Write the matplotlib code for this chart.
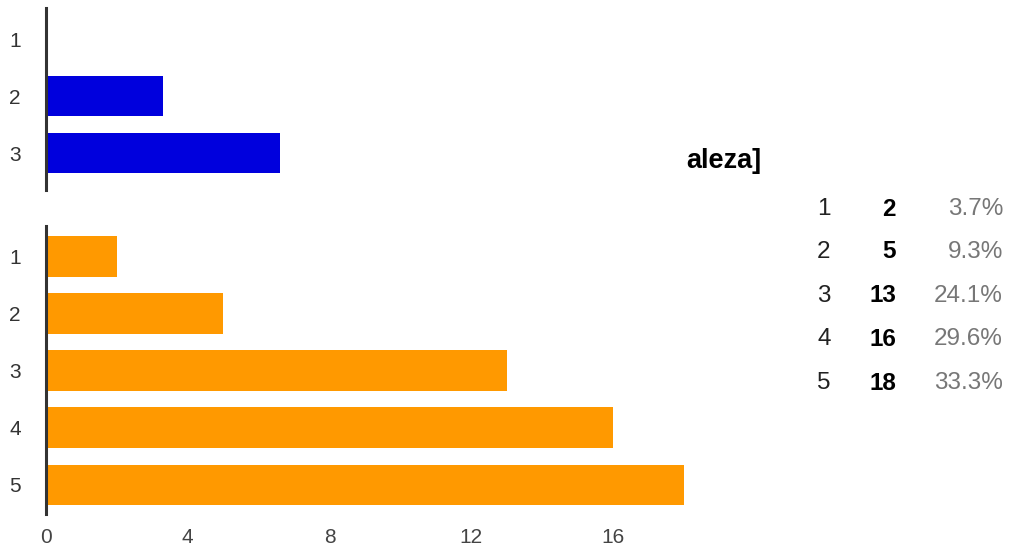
import matplotlib.pyplot as plt

plt.rcParams['font.family'] = ['Liberation Sans', 'DejaVu Sans']

top_cats = ['1', '2', '3']
top_vals = [0, 3.3, 6.6]

cats = ['1', '2', '3', '4', '5']
counts = [2, 5, 13, 16, 18]
pcts = ['3.7%', '9.3%', '24.1%', '29.6%', '33.3%']
xticks = [0, 4, 8, 12, 16]

W, H = 1009, 547
fig = plt.figure(figsize=(W / 100, H / 100), dpi=100)

def style(ax):
    for s in ['top', 'right', 'bottom']:
        ax.spines[s].set_visible(False)
    ax.spines['left'].set_color('#333333')
    ax.spines['left'].set_linewidth(2.2)
    ax.tick_params(axis='y', length=0, pad=18, labelsize=15, labelcolor='#333333')
    ax.tick_params(axis='x', length=0, pad=10, labelsize=15, labelcolor='#444444')

# top panel (blue)
ax1 = fig.add_axes([46 / W, 1 - 190 / H, (684 - 46) / W, (190 - 8) / H])
ax1.barh(range(1, 4), top_vals, height=0.71, color='#0000dd')
ax1.set_ylim(3.65, 0.45)
ax1.set_xlim(0, 18)
ax1.set_yticks(range(1, 4))
ax1.set_yticklabels(top_cats)
ax1.set_xticks([])
style(ax1)

# bottom panel (orange)
ax2 = fig.add_axes([46 / W, 1 - 514 / H, (684 - 46) / W, (514 - 226) / H])
ax2.barh(range(1, 6), counts, height=0.71, color='#ff9900')
ax2.set_ylim(5.51, 0.47)
ax2.set_xlim(0, 18)
ax2.set_yticks(range(1, 6))
ax2.set_yticklabels(cats)
ax2.set_xticks(xticks)
ax2.set_xticklabels([str(t) for t in xticks])
style(ax2)

# summary table on the right
fig.text(686 / W, 1 - 161 / H, 'aleza]', fontsize=19.5, fontweight='bold',
         color='black', ha='left', va='center')
row_y = [209, 252, 296, 339, 383]
for c, n, p, y in zip(cats, counts, pcts, row_y):
    fy = 1 - y / H
    fig.text(824 / W, fy, c, fontsize=17.5, color='#222222', ha='center', va='center')
    fig.text(896 / W, fy, str(n), fontsize=17.5, fontweight='bold', color='black',
             ha='right', va='center')
    fig.text(1003 / W, fy, p, fontsize=17.5, color='#777777', ha='right', va='center')

fig.savefig('out.png', dpi=100)
